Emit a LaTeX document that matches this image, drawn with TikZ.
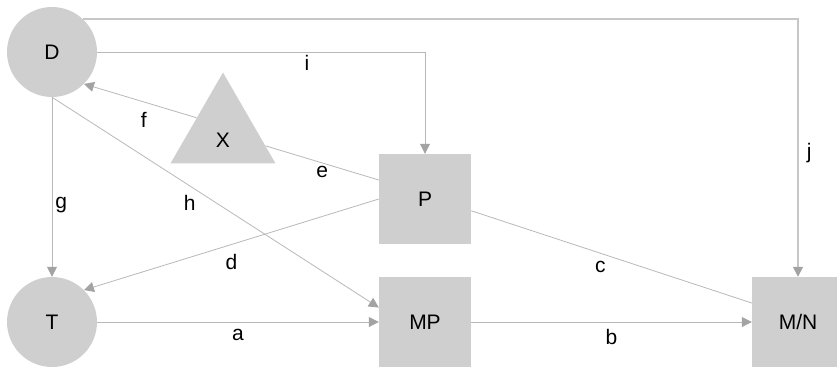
\documentclass[tikz,border=0pt]{standalone}
\usepackage{fontspec}
\setmainfont{Liberation Sans}
\usetikzlibrary{arrows.meta,calc,shapes.geometric}

\begin{document}
\begin{tikzpicture}[x=1pt, y=-1pt,
		every node/.style={font=\fontsize{21}{25}\selectfont},
		blob/.style={circle, fill=black!19, minimum size=90pt, inner sep=0pt},
		box/.style={rectangle, fill=black!19, minimum width=92pt, minimum height=90pt, inner sep=0pt},
		tri/.style={regular polygon, regular polygon sides=3, fill=black!19, minimum size=121pt, inner sep=0pt},
		link/.style={line width=0.8pt, color=black!28},
		arr/.style={link, -{Triangle[length=10pt, width=10pt, color=black!36]}},
		lab/.style={text=black, inner sep=3pt}]
		%%%%% START %%%%%
		
		\useasboundingbox (0, 0) rectangle (837, 369);
		
		\node[blob] (D) at (52, 52) {D};
		\node[blob] (T) at (52, 322) {T};
		\node[tri, label={[yshift=-7pt]center:X}] (X) at (223, 133) {};
		
		\node[box] (P) at (425, 199) {P};
		\node[box] (MP) at (425, 322) {MP};
		\node[box] (MN) at (798, 322) {M/N};
		
		\coordinate (Pe) at ($(P.north west)!0.29!(P.south west)$);
		\coordinate (Pc) at ($(P.north east)!0.63!(P.south east)$);
		\coordinate (MPh) at ($(MP.north west)!0.34!(MP.south west)$);
		\coordinate (MNc) at ($(MN.north west)!0.29!(MN.south west)$);
		
		\draw[arr] (T) -- node[lab, below=4pt] {a} (MP);
		\draw[arr] (MP) -- node[lab, below=4pt] {b} (MN);
		\draw[link] (Pc) -- node[lab, below=5pt, pos=0.46] {c} (MNc);
		\draw[arr] (P.west) -- node[lab, below=6pt] {d} (T.45);
		\draw[link] (Pe) -- node[lab, below] {e} (X);
		\draw[arr] (X.side 1) -- node[lab, below=7pt, pos=0.47] {f} (D.south east);
		\draw[arr] (D) -- node[lab, right, pos=0.6] {g} (T);
		\draw[arr] (D.south) -- node[lab, below left, pos=0.45] {h} (MPh);
		
		\draw[arr] (D) -| node[lab, below, pos=0.32] {i} (P);
		\draw[arr, line width=1.5pt, color=black!22] (D.47) -| node[lab, right=5pt, pos=0.76] {j} (MN);
		
		%%%%% END %%%%%
\end{tikzpicture}
\end{document}
